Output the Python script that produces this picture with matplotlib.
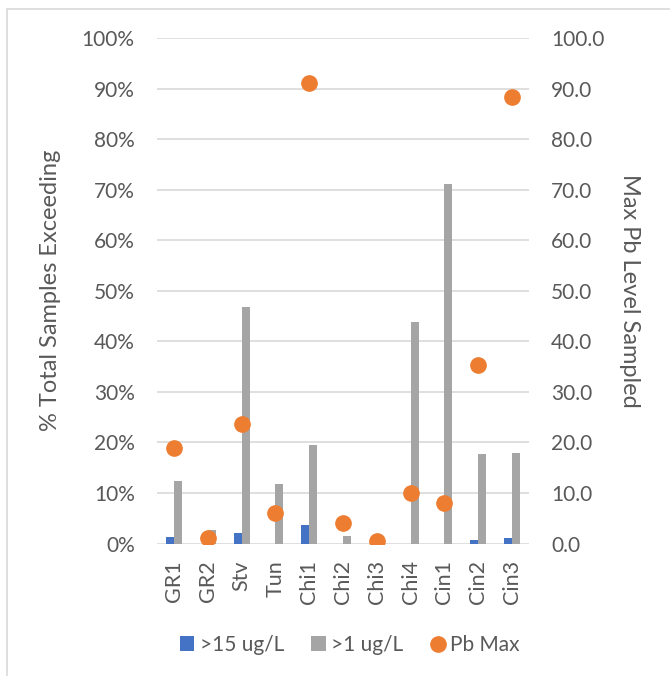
import numpy as np
import matplotlib
matplotlib.use('Agg')
import matplotlib.pyplot as plt
from matplotlib.patches import Rectangle
from matplotlib.ticker import FuncFormatter, MultipleLocator

plt.rcParams['font.family'] = ['Lato', 'DejaVu Sans']

# data
sites = ['GR1', 'GR2', 'Stv', 'Tun', 'Chi1', 'Chi2', 'Chi3', 'Chi4', 'Cin1', 'Cin2', 'Cin3']
over_15 = [1.2, 0.0, 2.1, 0.0, 3.6, 0.0, 0.0, 0.0, 0.0, 0.7, 1.0]        # % samples > 15 ug/L
over_1 = [12.3, 2.6, 46.7, 11.7, 19.4, 1.4, 0.0, 43.9, 71.1, 17.8, 18.0]  # % samples > 1 ug/L
pb_max = [18.8, 1.1, 23.6, 6.1, 91.0, 4.0, 0.5, 10.0, 8.0, 35.4, 88.3]     # max Pb level

blue = '#4472C4'
grey = '#A5A5A5'
orange = '#ED7D31'
txt = '#595959'

fig = plt.figure(figsize=(6.7, 6.76), dpi=100)
ax = fig.add_axes([0.2343, 0.196, 0.5553, 0.7478])
ax2 = ax.twinx()

x = np.arange(len(sites))
w = 0.237
b1 = ax.bar(x - w / 2, over_15, w, color=blue, label='>15 ug/L', zorder=2)
b2 = ax.bar(x + w / 2, over_1, w, color=grey, label='>1 ug/L', zorder=2)
pts, = ax2.plot(x, pb_max, 'o', color=orange, markersize=11, label='Pb Max', zorder=3)

ax.set_xlim(-0.5, len(sites) - 0.5)
ax.set_ylim(0, 100)
ax2.set_ylim(0, 100)
ax.yaxis.set_major_locator(MultipleLocator(10))
ax2.yaxis.set_major_locator(MultipleLocator(10))
ax.yaxis.set_major_formatter(FuncFormatter(lambda v, p: '%d%%' % v))
ax2.yaxis.set_major_formatter(FuncFormatter(lambda v, p: '%.1f' % v))
ax.grid(axis='y', color='#D9D9D9', linewidth=1.2, zorder=0)
ax.set_axisbelow(True)

ax.set_xticks(x)
ax.set_xticklabels(sites, rotation=90)
for a in (ax, ax2):
    for s in a.spines.values():
        s.set_visible(False)
    a.tick_params(length=0, labelsize=15, labelcolor=txt)
ax.tick_params(axis='y', pad=16)
ax2.tick_params(axis='y', pad=16)
ax.tick_params(axis='x', pad=12, labelsize=15.5)

ax.set_ylabel('% Total Samples Exceeding', fontsize=17, color=txt)
ax.yaxis.set_label_coords(-0.258, 0.5)
ax2.set_ylabel('Max Pb Level Sampled', fontsize=17, color=txt, rotation=270, va='center')
ax2.yaxis.set_label_coords(1.269, 0.5)

fig.legend(handles=[b1, b2, pts], loc='center', bbox_to_anchor=(0.522, 0.046), ncol=3,
           frameon=False, fontsize=15, labelcolor=txt, handlelength=0.7, handletextpad=0.25,
           columnspacing=1.3)

# chart area border (partly cropped in the original)
fig.patches.append(Rectangle((7 / 670, -0.1), 1.2, 1 - 9 / 676 + 0.1, transform=fig.transFigure,
                             fill=False, edgecolor='#D9D9D9', linewidth=1.2))

fig.savefig('out.png', dpi=100)
